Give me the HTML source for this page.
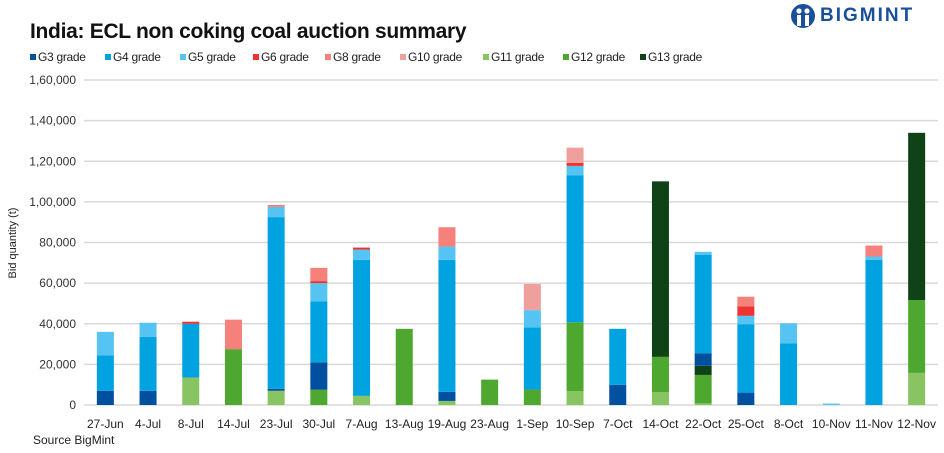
<!DOCTYPE html>
<html><head><meta charset="utf-8"><style>
body{margin:0;background:#fff;}
#wrap{position:relative;width:944px;height:453px;overflow:hidden;font-family:"Liberation Sans",sans-serif;}
.t{position:absolute;white-space:nowrap;}
</style></head><body>
<div id="wrap">
<div class="t" style="left:30px;top:20px;font-size:21px;font-weight:bold;color:#111;letter-spacing:-0.3px;">India: ECL non coking coal auction summary</div>
<div class="t" style="left:790px;top:3px;height:26px;">
<svg width="30" height="26" style="position:absolute;left:0;top:0"><circle cx="13" cy="13" r="12" fill="#1a4f9c"/><circle cx="9" cy="8" r="2.6" fill="#fff"/><circle cx="17" cy="8" r="2.6" fill="#fff"/><rect x="7" y="12" width="4" height="11" fill="#fff"/><rect x="15" y="12" width="4" height="11" fill="#fff"/></svg>
<span style="position:absolute;left:30px;top:2px;font-size:19px;font-weight:bold;color:#1a4f9c;letter-spacing:2px;">BIGMINT</span></div>
<svg id="chart" width="944" height="453" style="position:absolute;left:0;top:0"></svg>
</div>
<script>
const categories=["27-Jun","4-Jul","8-Jul","14-Jul","23-Jul","30-Jul","7-Aug","13-Aug","19-Aug","23-Aug","1-Sep","10-Sep","7-Oct","14-Oct","22-Oct","25-Oct","8-Oct","10-Nov","11-Nov","12-Nov"];
const seriesNames=["G11 grade","G12 grade","G13 grade","G3 grade","G4 grade","G5 grade","G6 grade","G8 grade","G10 grade"];
const g11=[0,0,13.5,0,7,0,4.5,0,2,0,0,6.9,0,6.4,0.8,0,0,0,0,15.8];
const g12=[0,0,0,27.5,0,7.5,0,37.5,0,12.5,7.6,33.8,0,17.3,14,0,0,0,0,35.9];
const g13=[0,0,0,0,0,0,0,0,0,0,0,0,0,86.4,4.5,0,0,0,0,82.3];
const g3=[7,7,0,0,1,13.5,0,0,4.5,0,0,0,9.9,0,6.2,6.1,0,0,0,0];
const g4=[17.5,26.5,26.5,0,84.5,30,67,0,65,0,30.6,72.3,27.6,0,48.5,33.7,30.3,0,71.4,0];
const g5=[11.5,7,0,0,5,9,5,0,6.5,0,8.5,4.7,0,0,1.4,4.1,9.9,0.7,1.7,0];
const g6=[0,0,1,0,0,1,1,0,0,0,0,1.5,0,0,0,4.7,0,0,0,0];
const g8=[0,0,0,14.5,1,6.5,0,0,9.5,0,0,0,0,0,0,4.7,0,0,5.4,0];
const g10=[0,0,0,0,0,0,0,0,0,0,12.9,7.5,0,0,0,0,0,0,0,0];
const yTicks=[0,20000,40000,60000,80000,100000,120000,140000,160000];
const yTickLabels=["0","20,000","40,000","60,000","80,000","1,00,000","1,20,000","1,40,000","1,60,000"];
const series=[g11,g12,g13,g3,g4,g5,g6,g8,g10];
const colors=["#88c462","#4ea72e","#0f4216","#0050a0","#00a2e0","#55c4f2","#ee3333","#f6807a","#f0a09c"];
const legendOrder=[3,4,5,6,7,8,0,1,2];
const legendX=[30,105,180,253,325,400,483,563,640];
const NS="http://www.w3.org/2000/svg";
const svg=document.getElementById('chart');
const x0=84,x1=938,y0=405,y1=80,yMax=160000;
const step=(x1-x0)/categories.length;
const xC=i=>x0+step*(i+0.5);
const yS=v=>y0-(v/yMax)*(y0-y1);
function mk(t,a){const e=document.createElementNS(NS,t);for(const k in a)e.setAttribute(k,a[k]);svg.appendChild(e);return e;}
yTicks.forEach((v,i)=>{
 const l=mk('line',{x1:x0,x2:x1,y1:yS(v),y2:yS(v),stroke:'#d9d9d9','stroke-width':1.5});
 
 
 const t=mk('text',{x:76,y:yS(v)+4,'text-anchor':'end','font-size':12,fill:'#333','font-family':'Liberation Sans, sans-serif'});
 t.textContent=yTickLabels[i];
 
 
});
categories.forEach((c,i)=>{
 let acc=0;
 series.forEach((s,k)=>{
  const v=s[i]*1000; if(v<=0)return;
  const r=mk('rect',{x:xC(i)-8.5,width:17,y:yS(acc+v),height:yS(acc)-yS(acc+v),fill:colors[k]});
  
  
  acc+=v;
 });
 const t=mk('text',{x:xC(i),y:428,'text-anchor':'middle','font-size':12,fill:'#222','font-family':'Liberation Sans, sans-serif'});
 t.textContent=c;
 
 
});
legendOrder.forEach((k,j)=>{
 const r=mk('rect',{x:legendX[j],y:54,width:6,height:6,fill:colors[k]});
 
 
 const t=mk('text',{x:legendX[j]+8,y:61,'font-size':12,fill:'#222','font-family':'Liberation Sans, sans-serif','letter-spacing':'-0.3'});
 t.textContent=seriesNames[k];
 
 
});
const yt=mk('text',{x:0,y:0,'font-size':11,fill:'#222','text-anchor':'middle','font-family':'Liberation Sans, sans-serif',transform:'translate(16,243) rotate(-90)'});
yt.textContent='Bid quantity (t)';


const src=mk('text',{x:33,y:444,'font-size':12,fill:'#222','font-family':'Liberation Sans, sans-serif'});
src.textContent='Source BigMint';


</script>
</body></html>
